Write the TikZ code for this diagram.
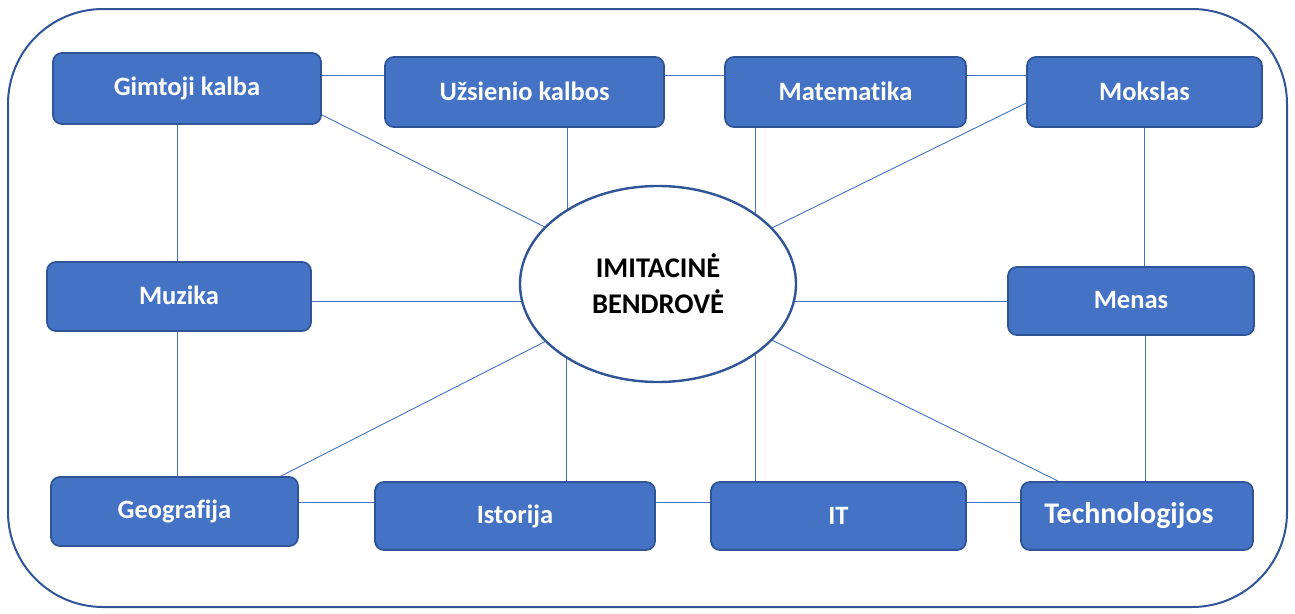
\documentclass[tikz,border=0pt]{standalone}
\usepackage{fontspec}
\setmainfont{Carlito}[Ligatures=NoCommon]
\usetikzlibrary{backgrounds,shapes.geometric}
\definecolor{boxfill}{HTML}{4472C4}
\definecolor{boxline}{HTML}{2F5597}
\begin{document}
\begin{tikzpicture}[x=1pt,y=-1pt,
  subj/.style={draw=boxline, line width=1.8pt, fill=boxfill, rounded corners=9pt,
    text=white, font=\bfseries\fontsize{26.5}{30}\selectfont, inner sep=0pt},
  conn/.style={draw=boxfill, line width=0.9pt},
  core/.style={ellipse, draw=boxline, line width=2.4pt, fill=white,
    minimum width=276pt, minimum height=196pt, inner sep=0pt, align=center,
    font=\bfseries\fontsize{28.5}{36}\selectfont}]
\useasboundingbox (0,0) rectangle (1295,613);
\draw[boxline, line width=2pt, rounded corners=95pt] (8,9) rectangle (1287,607);

\node[core] (e) at (658,284) {IMITACINĖ\\BENDROVĖ};

\node[subj, minimum width=268pt, minimum height=71pt] (g)  at (187,88.5) {\raisebox{2pt}{Gimtoji kalba}};
\node[subj, minimum width=279pt, minimum height=70pt] (u)  at (524.5,92) {\raisebox{2pt}{Užsienio kalbos}};
\node[subj, minimum width=241pt, minimum height=70pt] (ma) at (845.5,92) {\raisebox{2pt}{Matematika}};
\node[subj, minimum width=235pt, minimum height=70pt] (mo) at (1144.5,92) {\raisebox{2pt}{Mokslas}};
\node[subj, minimum width=264pt, minimum height=69pt] (mu) at (179,296.5) {\raisebox{2pt}{Muzika}};
\node[subj, minimum width=246pt, minimum height=68pt] (me) at (1131,301) {\raisebox{2pt}{Menas}};
\node[subj, minimum width=247pt, minimum height=69pt] (ge) at (174.5,511.5) {\raisebox{2pt}{Geografija}};
\node[subj, minimum width=280pt, minimum height=68pt] (is) at (515,516) {Istorija};
\node[subj, minimum width=255pt, minimum height=68pt] (it) at (838.5,516) {IT};
\node[subj, minimum width=232pt, minimum height=68pt, font=\bfseries\fontsize{30}{34}\selectfont] (t) at (1137,516) {\hspace*{-16pt}Technologijos};

\begin{scope}[on background layer]
  % top row
  \draw[conn] (g.east |- 0,75) -- (u.west |- 0,75);
  \draw[conn] (u.east |- 0,75) -- (ma.west |- 0,75);
  \draw[conn] (ma.east |- 0,75) -- (mo.west |- 0,75);
  % bottom row
  \draw[conn] (ge.east |- 0,502) -- (is.west |- 0,502);
  \draw[conn] (is.east |- 0,502) -- (it.west |- 0,502);
  \draw[conn] (it.east |- 0,502) -- (t.west |- 0,502);
  % left column
  \draw[conn] (g.south -| 177,0) -- (mu.north -| 177,0);
  \draw[conn] (mu.south -| 177,0) -- (ge.north -| 177,0);
  % right column
  \draw[conn] (mo.south -| 1144,0) -- (me.north -| 1144,0);
  \draw[conn] (me.south -| 1145,0) -- (t.north -| 1145,0);
  % radial
  \draw[conn] ([yshift=10pt]g.south east) -- (e.center);
  \draw[conn] (u.south -| 567,0) -- (e.center -| 567,0);
  \draw[conn] (ma.south -| 755,0) -- (e.center -| 755,0);
  \draw[conn] ([yshift=-11pt]mo.west) -- (e.center);
  \draw[conn] (mu.east |- 0,301) -- (e.center |- 0,301);
  \draw[conn] (me.west |- 0,301) -- (e.center |- 0,301);
  \draw[conn] ([xshift=-18pt]ge.north east) -- (e.center);
  \draw[conn] (is.north -| 566,0) -- (e.center -| 566,0);
  \draw[conn] (it.north -| 755,0) -- (e.center -| 755,0);
  \draw[conn] ([xshift=38pt]t.north west) -- (e.center);
\end{scope}
\end{tikzpicture}
\end{document}
